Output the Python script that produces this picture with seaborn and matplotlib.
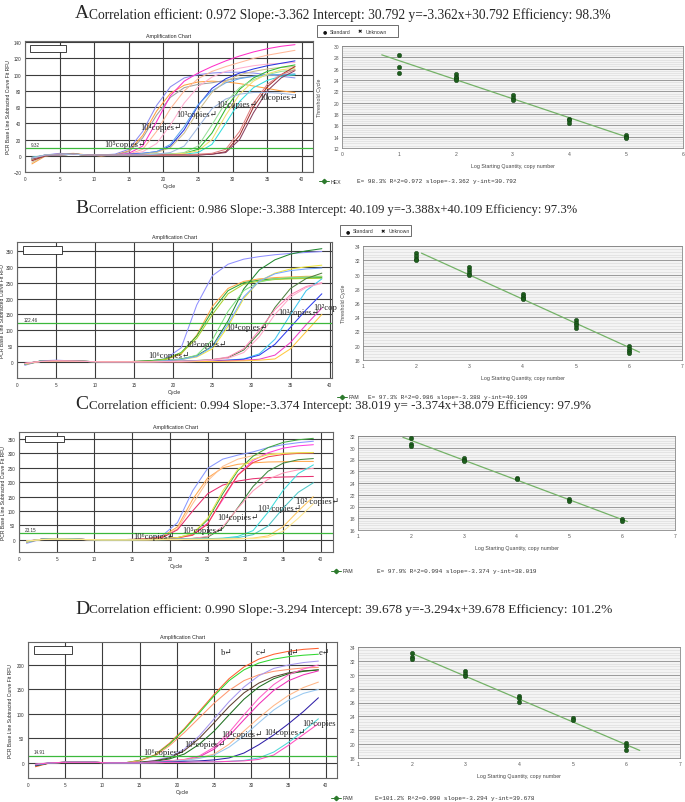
import numpy as np
import pandas as pd
import matplotlib
matplotlib.use("Agg")
import matplotlib.pyplot as plt
import seaborn as sns
from matplotlib.lines import Line2D
from matplotlib.patches import Rectangle
from matplotlib.ticker import MultipleLocator, AutoMinorLocator

sns.set_style("white")
plt.rcParams["font.family"] = ["Liberation Sans", "DejaVu Sans"]
SERIF = ["Liberation Serif", "DejaVu Serif"]
MONO = ["Liberation Mono", "DejaVu Sans Mono"]

W, H = 685, 803

cycles = list(range(1, 40, 2))

# ---- panel A (HEX) ----
a_colors = ["#8c8cf0", "#ffa040", "#a0a0a0", "#ff30c8", "#ffb898", "#ffb0d0",
            "#2838e0", "#60a8f0", "#d0c090", "#30b830", "#98e098", "#30dede",
            "#f0e070", "#a83030", "#884060", "#e08080", "#a0b8e0"]
a_curves = [
    [-6, 1, 3, 2, 1, 1, 2, 8, 30, 62, 85, 96, 100, 102, 103, 103, 102, 100, 98, 96],
    [-10, 0, 2, 3, 1, 0, 1, 6, 25, 55, 77, 87, 91, 92, 91, 89, 86, 83, 80, 78],
    [-4, 1, 2, 2, 1, 1, 1, 5, 22, 50, 72, 84, 88, 90, 93, 96, 98, 99, 100, 100],
    [-3, 1, 2, 2, 1, 1, 1, 3, 12, 42, 74, 92, 102, 110, 117, 123, 128, 132, 135, 137],
    [-5, 0, 2, 2, 1, 0, 1, 2, 8, 30, 58, 80, 95, 104, 110, 115, 120, 124, 127, 130],
    [-2, 1, 2, 2, 1, 1, 1, 2, 5, 15, 38, 65, 85, 97, 104, 108, 111, 113, 114, 115],
    [-4, 0, 2, 2, 1, 1, 1, 2, 3, 5, 12, 32, 62, 83, 95, 102, 107, 111, 114, 117],
    [-3, 1, 2, 2, 1, 1, 1, 1, 3, 5, 14, 36, 63, 80, 90, 95, 98, 100, 100, 101],
    [-8, 0, 2, 2, 1, 1, 1, 1, 2, 4, 10, 28, 55, 78, 92, 100, 104, 107, 109, 110],
    [-4, 0, 1, 2, 1, 1, 1, 1, 1, 2, 2, 3, 8, 28, 58, 82, 96, 104, 109, 112],
    [-3, 1, 1, 2, 1, 1, 1, 1, 1, 2, 2, 4, 12, 38, 66, 84, 94, 100, 104, 106],
    [-2, 1, 1, 2, 1, 1, 1, 1, 1, 1, 2, 2, 4, 14, 40, 67, 84, 93, 98, 100],
    [-5, 0, 1, 2, 1, 1, 1, 1, 1, 1, 2, 3, 6, 20, 50, 76, 92, 101, 106, 108],
    [-6, 0, 1, 2, 1, 1, 1, 1, 1, 1, 1, 1, 1, 2, 5, 25, 60, 85, 100, 110],
    [-4, 0, 1, 2, 1, 1, 1, 1, 1, 1, 1, 1, 1, 2, 4, 20, 53, 80, 96, 105],
    [-3, 1, 1, 2, 1, 1, 1, 1, 1, 1, 1, 1, 2, 3, 8, 30, 65, 88, 100, 106],
    [-3, 1, 1, 2, 1, 1, 1, 1, 1, 2, 4, 12, 35, 58, 70, 76, 78, 78, 77, 75],
]
a_std_x = [1, 1, 1, 2, 2, 2, 2, 3, 3, 3, 4, 4, 4, 5, 5, 5]
a_std_y = [28.5, 26.3, 25.2, 25.0, 24.6, 24.3, 24.0, 21.3, 20.8, 20.4,
           17.2, 16.9, 16.5, 14.3, 14.0, 13.7]
a_fit_x = [0.7, 5.0]
a_slope, a_icpt, a_thr = -3.362, 30.792, 9.32

# ---- panel B (FAM) ----
b_colors = ["#9090ff", "#ffa848", "#30a830", "#a8d030", "#208830", "#f0e840",
            "#80e080", "#78a8ff", "#508040", "#ff88b8", "#40c8f0", "#3040f0",
            "#f040c8", "#ffc840", "#ffa8c8"]
b_curves = [
    [-10, 4, 6, 4, 2, 1, 1, 2, 4, 10, 45, 180, 272, 308, 324, 332, 338, 342, 345, 348],
    [-8, 3, 5, 4, 2, 1, 1, 2, 3, 8, 25, 85, 175, 232, 254, 262, 266, 268, 270, 270],
    [-6, 3, 5, 4, 2, 1, 1, 2, 4, 10, 30, 82, 162, 225, 250, 258, 262, 264, 265, 266],
    [-7, 3, 5, 4, 2, 1, 1, 2, 3, 9, 28, 75, 150, 215, 245, 255, 260, 262, 263, 264],
    [-5, 3, 5, 4, 2, 1, 1, 2, 3, 5, 10, 20, 50, 130, 230, 290, 322, 340, 350, 357],
    [-6, 2, 4, 3, 2, 1, 1, 1, 2, 4, 8, 16, 42, 112, 200, 255, 280, 293, 300, 305],
    [-5, 3, 4, 3, 2, 1, 1, 1, 2, 4, 9, 22, 70, 160, 225, 252, 262, 266, 268, 270],
    [-6, 3, 4, 3, 2, 1, 1, 1, 2, 4, 8, 18, 48, 120, 205, 255, 278, 288, 293, 296],
    [-5, 2, 4, 3, 2, 1, 1, 1, 1, 2, 3, 5, 8, 14, 38, 92, 172, 232, 263, 280],
    [-4, 2, 4, 3, 2, 1, 1, 1, 1, 2, 3, 4, 8, 16, 42, 100, 165, 212, 238, 250],
    [-6, 2, 4, 3, 2, 1, 1, 1, 1, 2, 2, 3, 4, 6, 10, 26, 72, 150, 225, 262],
    [-5, 2, 4, 3, 2, 1, 1, 1, 1, 1, 2, 3, 4, 6, 9, 22, 56, 110, 165, 215],
    [-4, 2, 4, 3, 2, 1, 1, 1, 1, 1, 1, 2, 3, 4, 6, 9, 22, 62, 118, 170],
    [-5, 2, 3, 3, 2, 1, 1, 1, 1, 1, 1, 2, 2, 3, 4, 6, 10, 42, 96, 150],
    [-4, 2, 4, 3, 2, 1, 1, 1, 1, 2, 2, 4, 6, 12, 30, 80, 150, 205, 235, 248],
]
b_std_x = [2] * 4 + [3] * 4 + [4] * 4 + [5] * 4 + [6] * 4
b_std_y = [33.0, 32.6, 32.2, 32.0, 31.0, 30.6, 30.2, 29.9, 27.3, 27.0, 26.7, 26.5,
           23.6, 23.2, 22.9, 22.5, 20.0, 19.6, 19.2, 19.0]
b_fit_x = [2.1, 6.2]
b_slope, b_icpt, b_thr = -3.388, 40.109, 122.46

# ---- panel C (FAM) ----
c_colors = ["#8898ff", "#ffa850", "#ffc090", "#e83070", "#40a840", "#ff40e0",
            "#f04848", "#e8e850", "#408840", "#ff98b8", "#40dcdc", "#50c8c8",
            "#ffc860", "#ffe890"]
c_curves = [
    [-12, 3, 5, 3, 1, 0, 0, 2, 5, 15, 60, 170, 248, 280, 294, 305, 320, 330, 337, 342],
    [-8, 2, 4, 3, 1, 0, 0, 2, 4, 12, 45, 140, 215, 250, 262, 267, 270, 271, 272, 272],
    [-6, 2, 4, 3, 1, 0, 0, 1, 4, 10, 38, 125, 205, 255, 280, 292, 298, 300, 301, 302],
    [-5, 2, 4, 3, 1, 0, 0, 1, 4, 8, 35, 100, 160, 190, 204, 212, 216, 218, 219, 220],
    [-7, 2, 4, 3, 1, 0, 0, 1, 2, 5, 8, 20, 70, 160, 240, 290, 320, 338, 347, 352],
    [-6, 2, 4, 3, 1, 0, 0, 1, 2, 4, 7, 18, 58, 140, 225, 275, 302, 318, 326, 330],
    [-5, 2, 4, 3, 1, 0, 0, 1, 2, 4, 7, 16, 55, 145, 225, 268, 288, 296, 300, 302],
    [-6, 2, 4, 3, 1, 0, 0, 1, 2, 4, 8, 22, 75, 170, 245, 280, 295, 300, 302, 303],
    [-5, 2, 3, 3, 1, 0, 0, 1, 1, 2, 3, 5, 10, 40, 112, 185, 238, 266, 278, 282],
    [-4, 2, 3, 3, 1, 0, 0, 1, 1, 2, 3, 5, 12, 45, 110, 170, 210, 232, 243, 248],
    [-6, 2, 3, 3, 1, 0, 0, 0, 1, 1, 2, 3, 4, 6, 12, 32, 96, 172, 230, 260],
    [-5, 2, 3, 3, 1, 0, 0, 0, 1, 1, 2, 3, 4, 5, 8, 18, 48, 110, 165, 198],
    [-4, 1, 3, 2, 1, 0, 0, 0, 0, 1, 1, 2, 2, 3, 4, 6, 14, 46, 100, 150],
    [-4, 1, 3, 2, 1, 0, 0, 0, 0, 1, 1, 2, 2, 3, 4, 5, 9, 30, 75, 125],
]
c_std_x = [2, 2, 2, 3, 3, 3, 4, 4, 5, 5, 6, 6]
c_std_y = [31.7, 30.7, 30.3, 28.3, 28.0, 27.8, 24.8, 24.6, 21.2, 20.9, 17.8, 17.5]
c_fit_x = [1.85, 6.1]
c_slope, c_icpt, c_thr = -3.374, 38.019, 23.15

# ---- panel D (FAM) ----
d_colors = ["#ff6030", "#30d830", "#ff9870", "#a898f0", "#604030", "#207020",
            "#f030b8", "#ff60c8", "#ffb888", "#98c8f0", "#3020a8", "#50d8d8",
            "#ff50c0"]
d_curves = [
    [-8, 0, 1, 1, 1, 0, 0, 5, 16, 40, 70, 105, 140, 172, 196, 212, 222, 228, 232, 234],
    [-6, 0, 1, 1, 1, 0, 0, 5, 15, 38, 68, 102, 137, 168, 190, 204, 212, 217, 220, 222],
    [-5, 0, 1, 1, 1, 0, 0, 4, 14, 35, 62, 92, 122, 148, 168, 180, 187, 191, 194, 195],
    [-4, 0, 1, 1, 1, 0, 0, 1, 5, 12, 28, 55, 90, 125, 155, 178, 193, 200, 205, 208],
    [-6, 0, 1, 1, 1, 0, 0, 1, 4, 10, 25, 50, 82, 115, 143, 163, 176, 184, 188, 190],
    [-5, 0, 1, 1, 1, 0, 0, 1, 3, 8, 18, 38, 65, 98, 130, 155, 172, 182, 187, 190],
    [-4, 0, 1, 1, 1, 0, 0, 0, 2, 4, 6, 12, 28, 55, 88, 120, 148, 168, 180, 188],
    [-3, 0, 1, 1, 1, 0, 0, 0, 2, 4, 7, 14, 32, 62, 98, 132, 160, 180, 192, 200],
    [-4, 0, 1, 1, 1, 0, 0, 0, 1, 3, 6, 10, 18, 38, 65, 92, 117, 138, 154, 165],
    [-3, 0, 1, 1, 1, 0, 0, 0, 1, 3, 5, 9, 16, 32, 55, 82, 108, 128, 142, 150],
    [-5, 0, 1, 1, 1, 0, 0, 0, 1, 2, 3, 4, 6, 10, 20, 37, 57, 80, 105, 133],
    [-4, 0, 1, 1, 1, 0, 0, 0, 0, 1, 1, 2, 2, 3, 5, 10, 22, 42, 65, 90],
    [-3, 0, 1, 1, 1, 0, 0, 0, 0, 1, 1, 2, 2, 3, 4, 7, 16, 36, 58, 80],
]
d_std_x = [2, 2, 2, 3, 3, 3, 4, 4, 4, 5, 5, 6, 6, 6]
d_std_y = [33.1, 32.6, 32.2, 30.5, 30.1, 29.8, 26.9, 26.6, 26.1, 23.8, 23.5,
           20.2, 19.8, 19.2]
d_fit_x = [2.0, 6.25]
d_slope, d_icpt, d_thr = -3.294, 39.678, 14.91

headers = [
    ("A", "Correlation efficient: 0.972 Slope:-3.362 Intercept: 30.792 y=-3.362x+30.792 Efficiency: 98.3%"),
    ("B", "Correlation efficient: 0.986 Slope:-3.388 Intercept: 40.109 y=-3.388x+40.109 Efficiency: 97.3%"),
    ("C", "Correlation efficient: 0.994 Slope:-3.374 Intercept: 38.019 y= -3.374x+38.079 Efficiency: 97.9%"),
    ("D", "Correlation efficient: 0.990 Slope:-3.294 Intercept: 39.678 y=-3.294x+39.678 Efficiency: 101.2%"),
]
stats = [
    ("HEX", "E= 98.3% R^2=0.972 slope=-3.362 y-int=30.792"),
    ("FAM", "E= 97.3% R^2=0.986 slope=-3.388 y-int=40.109"),
    ("FAM", "E= 97.9% R^2=0.994 slope=-3.374 y-int=38.019"),
    ("FAM", "E=101.2% R^2=0.990 slope=-3.294 y-int=39.678"),
]

fig = plt.figure(figsize=(W / 100, H / 100), dpi=100)


def px_rect(x0, y0, x1, y1):
    return [x0 / W, 1 - y1 / H, (x1 - x0) / W, (y1 - y0) / H]


def ftext(x, y, s, **kw):
    fig.text(x / W, 1 - y / H, s, **kw)


def amp_chart(box, curves, colors, xmax, ylim, yticks, thr, notes, ylab_px):
    ax = fig.add_axes(px_rect(*box))
    names = [f"w{i}" for i in range(len(curves))]
    df = pd.DataFrame({
        "cycle": cycles * len(curves),
        "rfu": sum(curves, []),
        "well": np.repeat(names, len(cycles)),
    })
    ax.set_axisbelow(True)
    ax.grid(True, color="#3c3c3c", lw=0.8)
    sns.lineplot(data=df, x="cycle", y="rfu", hue="well",
                 palette=dict(zip(names, colors)), legend=False,
                 linewidth=0.75, errorbar=None, ax=ax)
    ax.axhline(thr, color="#3cb83c", lw=0.9)
    ax.text(0.8, thr + (ylim[1] - ylim[0]) * 0.012, f"{thr:.2f}",
            fontsize=3.3, color="#333333", va="bottom")
    ax.set_xlim(0, xmax)
    ax.set_ylim(*ylim)
    ax.set_xticks(range(0, 41, 5))
    ax.set_yticks(yticks)
    ax.tick_params(labelsize=3.3, length=1.5, width=0.4, pad=1.2,
                   colors="#333333")
    for s in ax.spines.values():
        s.set_color("#666666")
        s.set_linewidth(0.8)
    ax.set_xlabel("Cycle", fontsize=3.8, labelpad=1.5)
    ax.set_ylabel("PCR Base Line Subtracted Curve Fit RFU", fontsize=3.6)
    ax.yaxis.set_label_coords((ylab_px - box[0]) / (box[2] - box[0]), 0.5)
    ax.set_title("Amplification Chart", fontsize=3.8, pad=3)
    ax.add_patch(Rectangle((0.018, 0.915), 0.125, 0.052,
                           transform=ax.transAxes, fc="white", ec="#222222",
                           lw=0.6, zorder=5))
    for c, v, t in notes:
        ax.text(c, v, t, fontsize=6.2, family=SERIF + ["DejaVu Sans"],
                va="center", color="#222222", zorder=6)
    return ax


def std_chart(box, xlim, ylim, sx, sy, fx, slope, icpt, ylabel, ylab_px):
    ax = fig.add_axes(px_rect(*box))
    ax.set_facecolor("#f4f4f4")
    ax.set_axisbelow(True)
    ax.xaxis.set_major_locator(MultipleLocator(1))
    ax.xaxis.set_minor_locator(AutoMinorLocator(5))
    ax.yaxis.set_major_locator(MultipleLocator(2))
    ax.yaxis.set_minor_locator(AutoMinorLocator(5))
    ax.grid(which="major", axis="y", color="#9a9a9a", lw=0.7)
    ax.grid(which="minor", axis="y", color="#d9d9d9", lw=0.4)
    fy = [icpt + slope * x for x in fx]
    sns.lineplot(x=fx, y=fy, color="#74b267", lw=0.9, ax=ax)
    sns.scatterplot(x=sx, y=sy, color="#1d5e1d", s=10, edgecolor="#0e3a0e",
                    linewidth=0.3, ax=ax, zorder=4)
    ax.set_xlim(*xlim)
    ax.set_ylim(*ylim)
    ax.tick_params(which="both", direction="in", labelsize=3.6,
                   colors="#555555", width=0.4, pad=2)
    ax.tick_params(which="major", length=2.5)
    ax.tick_params(which="minor", length=1.5)
    for s in ax.spines.values():
        s.set_color("#888888")
        s.set_linewidth(0.6)
    ax.set_xlabel("Log Starting Quantity, copy number", fontsize=3.8,
                  color="#444444", labelpad=5)
    if ylabel:
        ax.set_ylabel(ylabel, fontsize=3.8, color="#444444")
        ax.yaxis.set_label_coords((ylab_px - box[0]) / (box[2] - box[0]), 0.5)
    return ax


def std_legend(x0, y0, x1, y1):
    fig.add_artist(Rectangle((x0 / W, 1 - y1 / H), (x1 - x0) / W, (y1 - y0) / H,
                             transform=fig.transFigure, fc="white",
                             ec="#555555", lw=0.6))
    ym = (y0 + y1) / 2
    ftext(x0 + 6, ym, "●", fontsize=3.5, color="#111111", va="center",
          family=["DejaVu Sans"])
    ftext(x0 + 13, ym, "Standard", fontsize=3.6, color="#333333", va="center")
    ftext(x0 + 41, ym, "✖", fontsize=3.8, color="#111111", va="center",
          family=["DejaVu Sans"])
    ftext(x0 + 49, ym, "Unknown", fontsize=3.6, color="#333333", va="center")


def stat_line(xm, y, xt, name, txt):
    fig.add_artist(Line2D([(xm - 5) / W, (xm + 5) / W], [1 - y / H] * 2,
                          transform=fig.transFigure, color="#2d7a2d", lw=0.7))
    fig.add_artist(Line2D([xm / W], [1 - y / H], transform=fig.transFigure,
                          color="#2d7a2d", marker="D", markersize=2.2, lw=0))
    ftext(xm + 7, y, name, fontsize=3.8, color="#333333", va="center")
    ftext(xt, y, txt, fontsize=4.3, color="#333333", va="center",
          family=MONO)


# headers
for (letter, txt), y, fs in zip(headers, [14, 209, 405, 609],
                                [9.75, 9.05, 9.4, 9.65]):
    ftext(75, y, letter, fontsize=14, family=SERIF, va="center")
    ftext(89, y + 1, txt, fontsize=fs, family=SERIF, va="center")

# panel A
amp_chart((25, 42, 313, 173), a_curves, a_colors, 41.6, (-20, 141.5),
          range(-20, 141, 20), a_thr,
          [(11.5, 14.5, "10⁵copies↵"), (16.6, 35, "10⁴copies↵"),
           (21.8, 51, "10³copies↵"), (27.7, 64, "10²copies↵"),
           (33.9, 73, "10copies↵")], 11)
std_chart((342, 47, 683, 149), (0, 6), (12, 30), a_std_x, a_std_y, a_fit_x,
          a_slope, a_icpt, "Threshold Cycle", 322)
std_legend(317, 26, 398, 38)
stat_line(324, 182, 357, *stats[0])

# panel B
amp_chart((17, 243, 332, 379), b_curves, b_colors, 40.3, (-50, 378),
          range(0, 351, 50), b_thr,
          [(16.8, 23, "10⁶copies↵"), (21.5, 57, "10⁵copies↵"),
           (26.8, 110, "10⁴copies↵"), (33.4, 157, "10³copies↵"),
           (37.9, 175, "10²cop")], 5)
std_chart((363, 247, 682, 361), (1, 7), (18, 34), b_std_x, b_std_y, b_fit_x,
          b_slope, b_icpt, "Threshold Cycle", 346)
std_legend(340, 226, 411, 237)
stat_line(342, 398, 368, *stats[1])

# panel C
amp_chart((19, 433, 333, 553), c_curves, c_colors, 41.6, (-42, 374),
          range(0, 351, 50), c_thr,
          [(15.2, 15, "10⁶copies↵"), (21.6, 35, "10⁵copies↵"),
           (26.3, 78, "10⁴copies↵"), (31.6, 111, "10³ copies↵"),
           (36.7, 134, "10² copies↵")], 6)
std_chart((358, 437, 675, 531), (1, 7), (16, 32), c_std_x, c_std_y, c_fit_x,
          c_slope, c_icpt, "", 0)
stat_line(336, 572, 377, *stats[2])

# panel D
amp_chart((28, 643, 337, 779), d_curves, d_colors, 41.5, (-31, 247),
          range(0, 201, 50), d_thr,
          [(15.5, 23, "10⁶copies↵"), (21.0, 39, "10⁵copies↵"),
           (26.0, 58, "10⁴copies↵"), (31.7, 63, "10⁴copies↵"),
           (36.9, 82, "10²copies"), (25.9, 226, "b↵"),
           (30.6, 226, "c↵"), (34.9, 226, "d↵"), (39.0, 226, "e↵")], 13)
std_chart((358, 648, 680, 759), (1, 7), (18, 34), d_std_x, d_std_y, d_fit_x,
          d_slope, d_icpt, "", 0)
stat_line(336, 799, 375, *stats[3])

fig.savefig("out.png", dpi=100)
